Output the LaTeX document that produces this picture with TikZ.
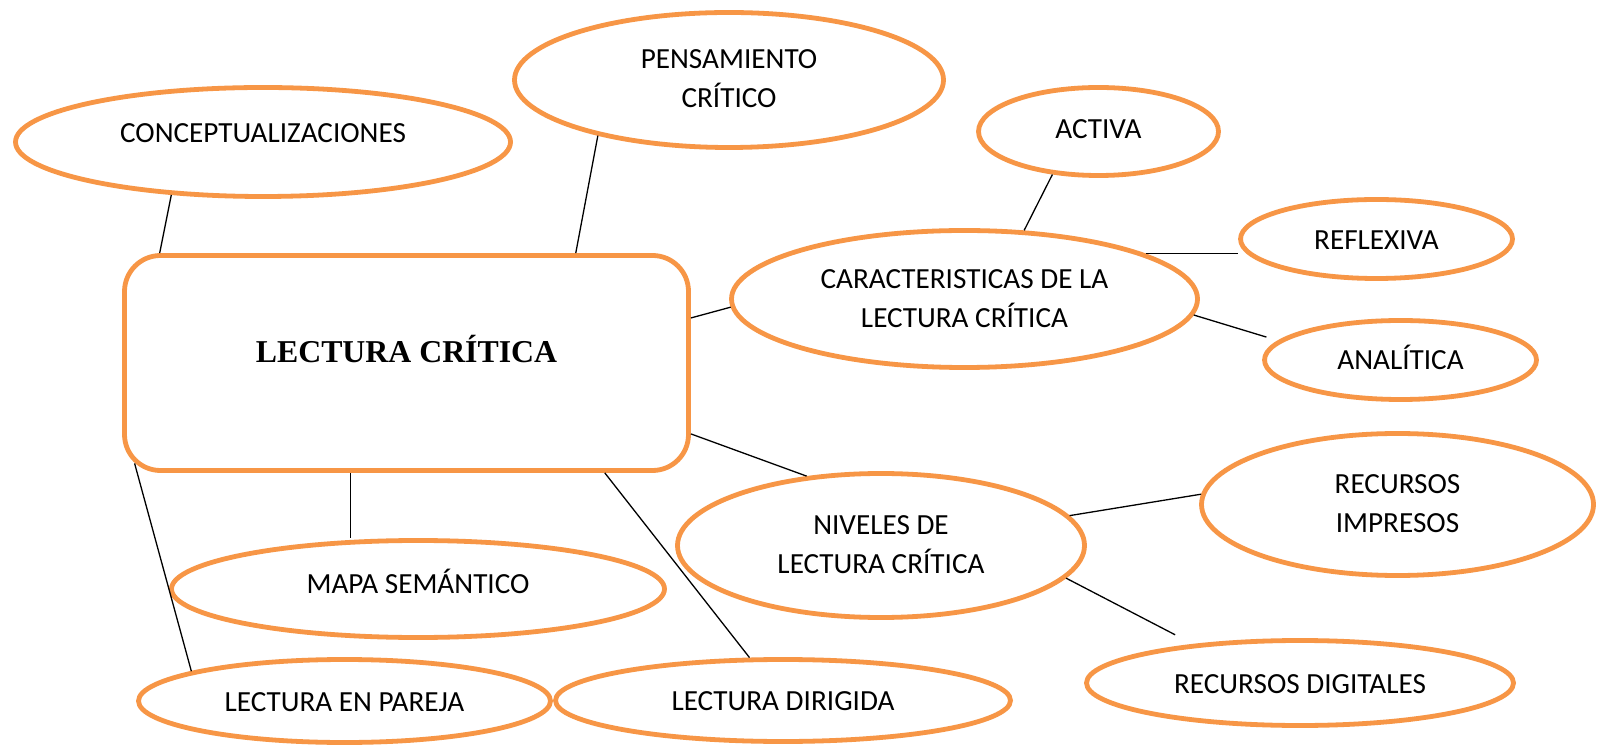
\documentclass[tikz,border=0pt]{standalone}
\usepackage{fontspec}
\setmainfont{Carlito}
\newfontfamily\titlefont{Liberation Serif}
\usetikzlibrary{shapes.geometric}
\definecolor{borange}{HTML}{F79646}
\tikzset{
  bub/.style={ellipse, draw=borange, line width=2.4pt, inner sep=0pt, align=center,
    font=\fontsize{14.6}{19.5}\selectfont},
  mainbox/.style={rectangle, draw=borange, line width=2.4pt, rounded corners=18pt, inner sep=0pt,
    font=\titlefont\bfseries\fontsize{15.9}{19}\selectfont},
  conn/.style={draw=black, line width=0.65pt}
}
\begin{document}
\begin{tikzpicture}[x=0.5pt, y=-0.5pt]
\path[use as bounding box, fill=white] (0,0) rectangle (1598,747);

\node[mainbox, minimum width=282pt, minimum height=107.5pt, text height=0pt, text depth=0pt] (rect) at (406.5,363) {LECTURA CRÍTICA};

\node[bub, minimum width=247.5pt, minimum height=54.5pt, text height=1pt, text depth=0pt] (concept) at (263,142) {CONCEPTUALIZACIONES};
\node[bub, minimum width=214.5pt, minimum height=67.5pt, text height=28pt, text depth=0pt] (pens) at (729,80) {PENSAMIENTO\\CRÍTICO};
\node[bub, minimum width=120pt, minimum height=44pt, text height=7.5pt, text depth=0pt] (activa) at (1098.5,131.5) {ACTIVA};
\node[bub, minimum width=136pt, minimum height=39.5pt, text height=11pt, text depth=0pt] (reflexiva) at (1376.5,239) {REFLEXIVA};
\node[bub, minimum width=233pt, minimum height=68.5pt, text height=29pt, text depth=0pt] (caract) at (964.5,299) {CARACTERISTICAS DE LA\\LECTURA CRÍTICA};
\node[bub, minimum width=136pt, minimum height=39.5pt, text height=10pt, text depth=0pt] (analitica) at (1400.5,360) {ANALÍTICA};
\node[bub, minimum width=203.5pt, minimum height=72pt, text height=27.5pt, text depth=0pt] (niveles) at (881,545.5) {NIVELES DE\\LECTURA CRÍTICA};
\node[bub, minimum width=196pt, minimum height=71pt, text height=27.5pt, text depth=0pt] (impresos) at (1397.5,504.5) {RECURSOS\\IMPRESOS};
\node[bub, minimum width=213.5pt, minimum height=42.5pt, text height=10pt, text depth=0pt] (digitales) at (1300,683) {RECURSOS DIGITALES};
\node[bub, minimum width=227.5pt, minimum height=41pt, text height=10pt, text depth=0pt] (dirigida) at (783,700.5) {LECTURA DIRIGIDA};
\node[bub, minimum width=206pt, minimum height=41.5pt, text height=10pt, text depth=0pt] (pareja) at (344.5,701) {LECTURA EN PAREJA};
\node[bub, minimum width=246.5pt, minimum height=48.5pt, text height=4pt, text depth=0pt] (mapa) at (418,589) {MAPA SEMÁNTICO};

\draw[conn] (concept.210) -- (rect.156.2);
\draw[conn] (pens.203.5) -- (rect.33.8);
\draw[conn] (rect.9.9) -- (caract.182.9);
\draw[conn] (activa.223.2) -- (caract.49.6);
\draw[conn] (caract.14) -- (caract.14 -| reflexiva.west);
\draw[conn, shorten >=6pt] (caract.356.4) -- (analitica.171.8);
\draw[conn] (rect.346.3) -- (niveles.137.8);
\draw[conn] (niveles.9.6) -- (impresos.177.5);
\draw[conn, shorten >=10pt] (niveles.350.4) -- (digitales.160.6);
\draw[conn] (rect.243.5) -- (rect.243.5 |- mapa.north);
\draw[conn] (rect.331.1) -- (dirigida.128.2);
\draw[conn] ([shift={(12.5,-9.5)}]rect.south west) -- (pareja.169.7);
\end{tikzpicture}
\end{document}
